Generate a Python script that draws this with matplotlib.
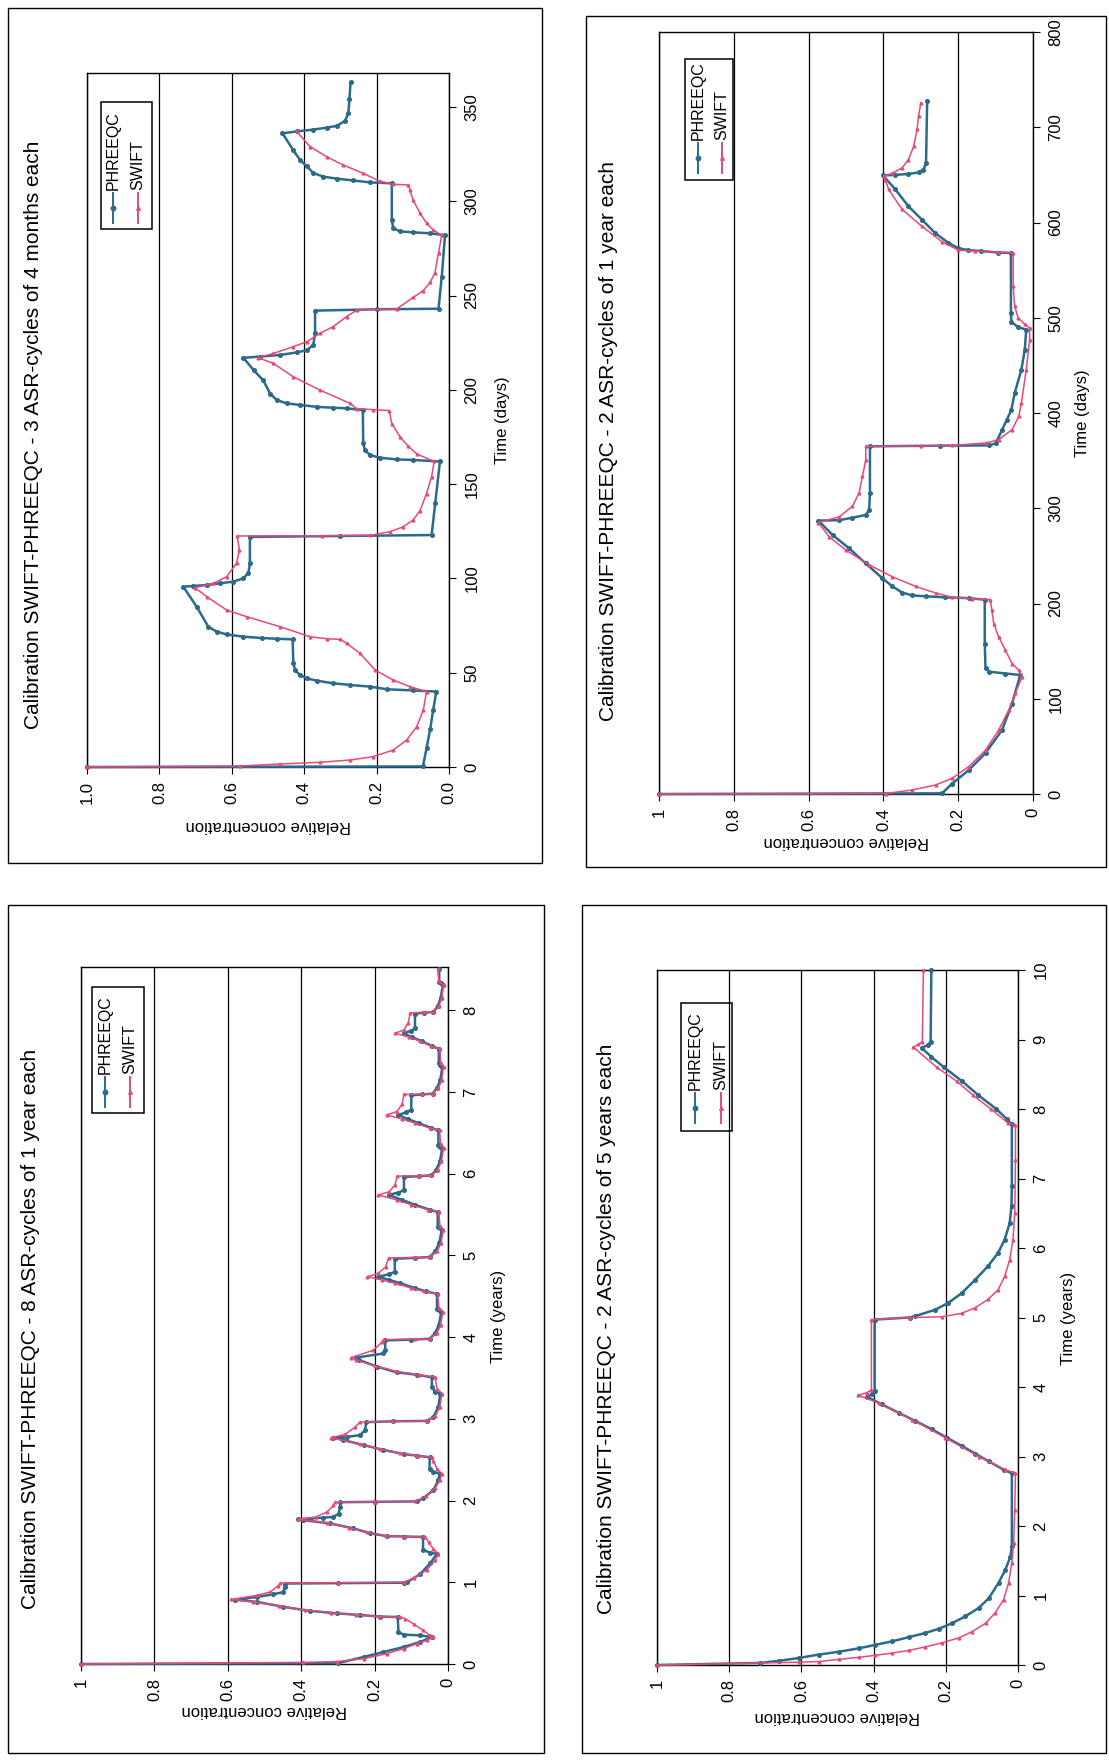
import matplotlib
matplotlib.use("Agg")
import matplotlib.pyplot as plt
from matplotlib.patches import Rectangle
from matplotlib.lines import Line2D

plt.rcParams['font.family'] = ['Liberation Sans Narrow', 'Liberation Sans', 'DejaVu Sans']

W, H = 1109, 1761
BLUE = '#2b6a8b'
PINK = '#e6497a'

# ---- data: (time, relative concentration) ----

# 3 ASR-cycles of 4 months each (days)
a_phreeqc = [
    (0, 1.0), (0.3, .072), (10, .062), (20, .052), (30, .044), (40, .035),
    (40.6, .10), (41.2, .17), (42.6, .218), (43.5, .273), (44.4, .32), (45.8, .366),
    (47, .393), (48.8, .412), (51.4, .425), (55, .43), (67.7, .432),
    (68, .476), (68.4, .517), (69.1, .568), (70.3, .614), (71.8, .642), (74.4, .665),
    (85, .697), (95.6, .734),
    (96, .706), (96.5, .669), (97.4, .633), (98.3, .596), (100, .568), (103, .554),
    (108, .55), (122, .55),
    (122.5, .30), (123, .048), (140, .038), (162, .025),
    (162.8, .099), (163.1, .145), (164, .191), (165.4, .218), (168, .232), (171.6, .237),
    (189.3, .238),
    (190.2, .283), (190.5, .32), (191, .366), (192, .412), (192.8, .448), (194.6, .476),
    (198, .494), (205, .513), (210.5, .54), (217, .568),
    (217.6, .522), (218.5, .467), (219.8, .421), (221, .393), (223.8, .375), (230, .37),
    (242, .37),
    (242.7, .20), (243, .029), (260, .02), (282, .011),
    (283, .052), (283.5, .099), (284, .135), (285.7, .154), (290, .158), (309.5, .158),
    (310, .218), (311, .264), (312, .31), (313, .347), (315, .375), (318.5, .393),
    (322, .412), (327, .43), (336, .46),
    (337, .421), (338, .375), (339, .338), (340, .31), (342.6, .287), (347, .278),
    (354, .275), (363, .272),
]
a_swift = [
    (0, 1.0), (0.53, .577), (1.6, .467), (2.5, .356), (3.7, .273), (5.5, .209), (9, .154),
    (14.3, .117), (21.4, .089), (30.2, .071), (40, .062),
    (42.6, .108), (46.1, .154), (51.4, .204), (60.3, .246), (65.6, .283), (67.7, .301),
    (68, .338), (69.1, .384), (74.4, .467), (79.7, .559), (83.2, .614), (90.3, .669),
    (95.1, .702),
    (97.4, .651), (100.9, .614), (108, .587), (115, .579), (122.5, .585),
    (122.6, .35), (122.8, .218), (124.8, .163), (127.4, .126), (131, .099), (136, .08),
    (145, .062), (154, .048), (162, .041),
    (166, .089), (170, .112), (175, .135), (182, .158), (189, .165),
    (189.5, .209), (190, .255), (192.8, .273), (199.8, .356), (206.9, .43), (214, .485),
    (217, .527),
    (219.3, .485), (222.9, .43), (225.5, .393), (230, .356), (233.5, .32), (238.8, .283),
    (242.3, .255),
    (242.8, .145), (249, .099), (252.6, .071), (257, .052), (262, .039), (272.5, .029),
    (282, .02),
    (284.7, .043), (288.3, .062), (293.6, .08), (300.6, .099), (306, .108), (308.6, .112),
    (309, .154), (310.5, .19), (314.8, .237), (319.2, .292), (323.6, .338), (329, .384),
    (337, .421),
]

# 2 ASR-cycles of 1 year each (days)
b_phreeqc = [
    (0, 1.0), (0.7, .243), (11, .216), (25, .172), (43, .127), (67, .083), (95, .056),
    (125, .034),
    (126.5, .074), (128.5, .118), (132, .127), (158, .129), (204, .129),
    (205.6, .172), (206.5, .234), (207.5, .287), (208.5, .323), (211.5, .35), (218, .376),
    (226.6, .403), (242, .447), (258, .492), (272, .536), (287, .574),
    (287.5, .518), (290, .483), (293, .447), (298, .438), (316, .436), (365, .436),
    (365.7, .25), (366, .118), (368, .10), (382, .083), (393, .07), (403, .058),
    (421, .049), (445.5, .031), (466.5, .022), (487.6, .018),
    (490, .04), (496, .058), (505, .059), (568, .059),
    (568.5, .093), (570, .138), (571, .173), (573, .20), (578.6, .226), (589, .262),
    (603, .297), (617, .333), (634.7, .368), (649.4, .401),
    (650, .368), (651, .333), (652.5, .306), (655, .293), (662.7, .286), (728, .283),
]
b_swift = [
    (0, 1.0), (0.5, .394), (4.2, .323), (9.5, .26), (16.5, .216), (28.7, .172), (46, .127),
    (67, .092), (88, .065), (106, .047), (123.3, .029),
    (130, .038), (137, .056), (151, .074), (165, .092), (179, .105), (193, .11), (204, .114),
    (205, .163), (206.5, .216), (211, .26), (218, .314), (228, .376), (240.6, .438),
    (256, .50), (270, .545), (285, .574),
    (291, .518), (302, .483), (316, .465), (333.5, .456), (350.9, .447), (365, .447),
    (365.5, .30), (366, .216), (368.5, .127), (372, .092), (382.5, .056), (396.5, .038),
    (410.5, .031), (445.5, .018), (477, .009), (489, .009),
    (493, .022), (500, .04), (512, .049), (533, .053), (568, .053),
    (569, .093), (570, .155), (571, .20), (580, .244), (596, .297), (613.7, .35),
    (634.7, .386), (645, .395), (648.7, .399),
    (651.5, .377), (657.4, .35), (666, .333), (680, .319), (697.7, .31), (711.7, .306),
    (725.7, .30),
]

# 8 ASR-cycles of 1 year each (years)
c_phreeqc = [
    (0, 1.0), (0.01, .30), (0.086, .23), (0.147, .176), (0.208, .121), (0.269, .076),
    (0.33, .044), (0.35, .076), (0.36, .121), (0.39, .135), (0.575, .137),
    (0.58, .185), (0.60, .24), (0.62, .303), (0.65, .376), (0.70, .449), (0.76, .521),
    (0.787, .581), (0.82, .521), (0.853, .476), (0.88, .449), (0.94, .444), (0.985, .444),
    (0.99, .30), (0.995, .121), (1.0, .112), (1.1, .076), (1.23, .049), (1.35, .03),
    (1.36, .049), (1.40, .068), (1.555, .068), (1.56, .121), (1.565, .167), (1.60, .212),
    (1.66, .258), (1.72, .321), (1.76, .394), (1.77, .408), (1.78, .376), (1.79, .34),
    (1.80, .312), (1.84, .298), (1.92, .294), (1.98, .294),
    (1.985, .20), (1.99, .085), (2.03, .067), (2.13, .04), (2.25, .026), (2.33, .023),
    (2.35, .04), (2.39, .05), (2.53, .05), (2.55, .085), (2.57, .121), (2.62, .176),
    (2.68, .23), (2.74, .285), (2.77, .312), (2.78, .276), (2.80, .24), (2.86, .226),
    (2.96, .223), (2.97, .15), (2.975, .058), (3.02, .04), (3.15, .026), (3.31, .021),
    (3.33, .035), (3.39, .044), (3.51, .044), (3.54, .085), (3.57, .14), (3.64, .194),
    (3.72, .242), (3.75, .25), (3.80, .176), (3.84, .171), (3.96, .171),
    (3.97, .10), (3.98, .05), (4.05, .035), (4.15, .025), (4.31, .018),
    (4.33, .025), (4.35, .03), (4.53, .03), (4.56, .06), (4.60, .09), (4.66, .13),
    (4.70, .16), (4.74, .19), (4.77, .16), (4.80, .145), (4.96, .145),
    (4.97, .09), (4.98, .05), (5.05, .035), (5.15, .024), (5.31, .017),
    (5.33, .023), (5.35, .028), (5.53, .028), (5.56, .05), (5.62, .09), (5.68, .125),
    (5.74, .162), (5.77, .135), (5.80, .12), (5.96, .12),
    (5.97, .08), (5.98, .045), (6.05, .032), (6.15, .022), (6.31, .016),
    (6.33, .022), (6.35, .026), (6.53, .026), (6.56, .045), (6.62, .08), (6.67, .11),
    (6.72, .135), (6.75, .115), (6.78, .10), (6.96, .10),
    (6.97, .07), (6.98, .042), (7.05, .03), (7.15, .021), (7.31, .015),
    (7.33, .021), (7.35, .025), (7.53, .025), (7.56, .043), (7.62, .07), (7.67, .098),
    (7.72, .121), (7.75, .10), (7.78, .09), (7.96, .09),
    (7.97, .065), (7.98, .04), (8.05, .028), (8.15, .02), (8.31, .014),
    (8.33, .02), (8.35, .024), (8.5, .024),
]
c_swift = [
    (0, 1.0), (0.02, .394), (0.03, .303), (0.065, .23), (0.126, .167), (0.188, .121),
    (0.249, .085), (0.29, .058), (0.33, .04),
    (0.35, .049), (0.41, .067), (0.49, .094), (0.555, .117), (0.575, .13),
    (0.58, .185), (0.60, .25), (0.63, .32), (0.66, .39), (0.71, .46), (0.76, .53),
    (0.79, .59), (0.84, .521), (0.88, .485), (0.96, .462), (0.99, .457),
    (0.995, .30), (1.0, .121), (1.05, .094), (1.15, .058), (1.27, .035), (1.35, .026),
    (1.41, .04), (1.49, .053), (1.555, .062), (1.56, .12), (1.57, .17), (1.61, .22),
    (1.67, .27), (1.73, .33), (1.77, .41),
    (1.80, .36), (1.86, .33), (1.94, .312), (1.98, .308),
    (1.985, .20), (1.99, .09), (2.05, .06), (2.15, .035), (2.25, .022), (2.33, .017),
    (2.39, .03), (2.49, .04), (2.53, .044), (2.55, .085), (2.58, .13), (2.63, .185),
    (2.69, .24), (2.77, .318),
    (2.81, .28), (2.90, .253), (2.96, .24), (2.97, .15), (2.975, .058), (3.03, .035),
    (3.15, .022), (3.31, .016),
    (3.37, .03), (3.51, .035), (3.54, .08), (3.58, .14), (3.65, .20), (3.72, .25),
    (3.75, .265), (3.84, .203), (3.94, .18), (3.97, .176),
    (3.975, .09), (3.98, .05), (4.05, .03), (4.15, .02), (4.31, .014),
    (4.36, .025), (4.53, .028), (4.56, .065), (4.60, .10), (4.66, .145), (4.70, .18),
    (4.74, .22), (4.78, .19), (4.86, .17), (4.97, .162),
    (4.975, .09), (4.98, .05), (5.05, .03), (5.15, .019), (5.31, .013),
    (5.36, .022), (5.53, .025), (5.56, .055), (5.62, .10), (5.68, .14), (5.74, .19),
    (5.78, .16), (5.86, .145), (5.97, .138),
    (5.975, .08), (5.98, .045), (6.05, .028), (6.15, .018), (6.31, .012),
    (6.36, .02), (6.53, .023), (6.56, .05), (6.62, .09), (6.67, .125), (6.72, .167),
    (6.76, .14), (6.85, .125), (6.97, .12),
    (6.975, .07), (6.98, .042), (7.05, .026), (7.15, .017), (7.31, .012),
    (7.36, .02), (7.53, .022), (7.56, .045), (7.62, .075), (7.67, .105), (7.72, .144),
    (7.76, .12), (7.85, .108), (7.97, .103),
    (7.975, .065), (7.98, .04), (8.05, .025), (8.15, .017), (8.31, .012),
    (8.36, .025), (8.5, .028),
]

# 2 ASR-cycles of 5 years each (years)
d_phreeqc = [
    (0, 1.0), (0.03, .714), (0.06, .663), (0.10, .608), (0.15, .552), (0.19, .497),
    (0.24, .441), (0.29, .395), (0.34, .349), (0.40, .303), (0.46, .257), (0.52, .22),
    (0.60, .183), (0.70, .146), (0.82, .109), (0.96, .081), (1.18, .054), (1.37, .035),
    (1.56, .021), (1.71, .017), (2.76, .017),
    (2.81, .04), (2.93, .081), (3.04, .118), (3.15, .155), (3.27, .197), (3.39, .238),
    (3.51, .284), (3.63, .331), (3.75, .377), (3.86, .418),
    (3.90, .404), (3.94, .397), (4.97, .397),
    (5.0, .30), (5.02, .285), (5.11, .23), (5.21, .193), (5.35, .156), (5.54, .119),
    (5.74, .083), (5.93, .055), (6.12, .037), (6.36, .023), (6.6, .018), (6.89, .017),
    (7.78, .017),
    (7.85, .03), (8.0, .06), (8.2, .11), (8.4, .155), (8.6, .205), (8.75, .24), (8.88, .267),
    (8.92, .25), (8.97, .242), (10.0, .24),
]
d_swift = [
    (0, 1.0), (0.04, .608), (0.05, .552), (0.08, .497), (0.11, .441), (0.14, .395),
    (0.17, .349), (0.21, .303), (0.26, .257), (0.32, .21), (0.39, .164), (0.48, .127),
    (0.60, .09), (0.75, .063), (0.94, .04), (1.18, .026), (1.47, .017), (1.76, .012),
    (2.23, .009), (2.76, .007),
    (2.81, .035), (3.0, .109), (3.27, .201), (3.53, .293), (3.77, .386), (3.88, .443),
    (3.92, .418), (3.96, .406), (4.97, .406),
    (5.0, .30), (5.01, .211), (5.06, .156), (5.14, .119), (5.26, .083), (5.4, .055),
    (5.59, .037), (5.83, .023), (6.12, .014), (6.5, .009), (7.27, .007), (7.77, .007),
    (7.8, .028), (8.0, .075), (8.2, .125), (8.4, .17), (8.6, .225), (8.89, .29),
    (8.93, .276), (8.97, .265), (10.0, .262),
]

conc_ticks = [1.0, 0.8, 0.6, 0.4, 0.2, 0.0]
conc_labels_dec = ['1.0', '0.8', '0.6', '0.4', '0.2', '0.0']
conc_labels_int = ['1', '0.8', '0.6', '0.4', '0.2', '0']
days_ticks_a = [0, 50, 100, 150, 200, 250, 300, 350]
days_ticks_b = [0, 100, 200, 300, 400, 500, 600, 700, 800]
year_ticks_c = [0, 1, 2, 3, 4, 5, 6, 7, 8]
year_ticks_d = [0, 1, 2, 3, 4, 5, 6, 7, 8, 9, 10]

titles = [
    'Calibration SWIFT-PHREEQC - 3 ASR-cycles of 4 months each',
    'Calibration SWIFT-PHREEQC - 2 ASR-cycles of 1 year each',
    'Calibration SWIFT-PHREEQC - 8 ASR-cycles of 1 year each',
    'Calibration SWIFT-PHREEQC - 2 ASR-cycles of 5 years each',
]


def fx(x):
    return x / W


def fy(y):
    return 1 - y / H


def draw_legend(fig, box, xs, line_y, text_bottom):
    x0, y0, x1, y1 = box
    fig.add_artist(Rectangle((fx(x0), fy(y1)), fx(x1) - fx(x0), fy(y0) - fy(y1),
                             transform=fig.transFigure, fill=False, ec='black', lw=1.1))
    entries = [('PHREEQC', BLUE, 'o', 3.2), ('SWIFT', PINK, '^', 2.6)]
    for x, (name, color, mk, ms) in zip(xs, entries):
        fig.add_artist(Line2D([fx(x), fx(x)], [fy(line_y[0]), fy(line_y[1])],
                              transform=fig.transFigure, color=color, lw=1.4))
        fig.add_artist(Line2D([fx(x)], [fy(sum(line_y) / 2)], transform=fig.transFigure,
                              color=color, marker=mk, ms=ms, lw=0))
        fig.text(fx(x), fy(text_bottom), name, rotation=90, ha='center', va='bottom',
                 fontsize=11.5)


def draw_panel(fig, frame, outer, tmax, tticks, clabels, title, tlabel,
               phreeqc, swift, title_xy, xlabel_xy, ylabel_xy, legend):
    # outer border of the chart
    ox0, oy0, ox1, oy1 = outer
    fig.add_artist(Rectangle((fx(ox0), fy(oy1)), fx(ox1) - fx(ox0), fy(oy0) - fy(oy1),
                             transform=fig.transFigure, fill=False, ec='black', lw=1.0))

    # page is turned: time runs upward, concentration runs right-to-left
    x0, y0, x1, y1 = frame
    ax = fig.add_axes([fx(x0), fy(y1), fx(x1) - fx(x0), fy(y0) - fy(y1)])
    ax.set_xlim(1, 0)
    ax.set_ylim(0, tmax)
    ax.set_xticks(conc_ticks)
    ax.set_xticklabels(clabels)
    ax.set_yticks(tticks)
    ax.set_yticklabels([str(t) for t in tticks])
    ax.yaxis.tick_right()
    ax.grid(axis='x', color='black', lw=0.9)
    for sp in ax.spines.values():
        sp.set_color('black')
        sp.set_linewidth(1.0)
    ax.tick_params(axis='x', direction='out', length=5, labelsize=12, pad=5,
                   labelrotation=90)
    ax.tick_params(axis='y', direction='out', length=5, labelsize=12, pad=6,
                   labelrotation=90)
    for lab in ax.get_yticklabels():
        lab.set_va('center')

    t, c = zip(*phreeqc)
    ax.plot(c, t, color=BLUE, lw=1.8, marker='o', ms=2.6, clip_on=False, zorder=3)
    t, c = zip(*swift)
    ax.plot(c, t, color=PINK, lw=1.1, marker='^', ms=2.0, clip_on=False, zorder=4)

    fig.text(fx(title_xy[0]), fy(title_xy[1]), title, rotation=90, ha='center',
             va='center', fontsize=15)
    fig.text(fx(xlabel_xy[0]), fy(xlabel_xy[1]), 'Relative concentration', rotation=180,
             ha='center', va='center', fontsize=12)
    fig.text(fx(ylabel_xy[0]), fy(ylabel_xy[1]), tlabel, rotation=90, ha='center',
             va='center', fontsize=12)
    draw_legend(fig, *legend)


fig = plt.figure(figsize=(W / 100, H / 100), dpi=100)

draw_panel(fig, (87, 73, 449, 767), (8, 8, 542, 863), 368, days_ticks_a,
           conc_labels_dec, titles[0], 'Time (days)', a_phreeqc, a_swift,
           (34, 435), (268, 826), (502, 420),
           ((101, 102, 152, 229), (113, 138), (193, 223), 190))
draw_panel(fig, (659, 32, 1033, 794), (586, 16, 1106, 867), 800, days_ticks_b,
           conc_labels_int, titles[1], 'Time (days)', b_phreeqc, b_swift,
           (609, 441), (846, 841), (1082, 413),
           ((685, 59, 733, 180), (698, 722), (143, 173), 140))
draw_panel(fig, (81, 967, 448, 1664), (8, 905, 544, 1753), 8.53, year_ticks_c,
           conc_labels_int, titles[2], 'Time (years)', c_phreeqc, c_swift,
           (31, 1329), (264, 1711), (498, 1316),
           ((92, 987, 144, 1113), (105, 130), (1077, 1107), 1074))
draw_panel(fig, (657, 970, 1018, 1665), (582, 905, 1106, 1753), 10, year_ticks_d,
           conc_labels_int, titles[3], 'Time (years)', d_phreeqc, d_swift,
           (606, 1329), (837, 1717), (1068, 1318),
           ((681, 1003, 732, 1131), (695, 721), (1093, 1123), 1090))

fig.savefig('out.png', dpi=100)
